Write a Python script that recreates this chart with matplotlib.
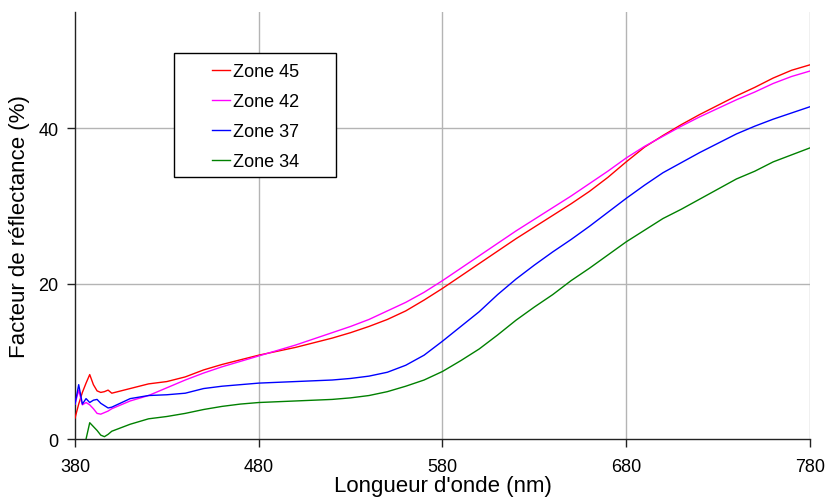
import numpy as np
import matplotlib
matplotlib.use("Agg")
import matplotlib.pyplot as plt
from matplotlib.patches import Rectangle

plt.rcParams['font.family'] = ['Liberation Sans', 'DejaVu Sans']

# longueurs d'onde (nm)
wl = [380, 382, 384, 386, 388, 390, 392, 394, 396, 398, 400,
      410, 420, 430, 440, 450, 460, 470, 480, 490, 500,
      510, 520, 530, 540, 550, 560, 570, 580, 590, 600,
      610, 620, 630, 640, 650, 660, 670, 680, 690, 700,
      710, 720, 730, 740, 750, 760, 770, 780]

zone45 = [2.7, 4.5, 6.0, 7.2, 8.3, 7.0, 6.2, 6.0, 6.1, 6.3, 5.9,
          6.5, 7.1, 7.4, 8.0, 8.9, 9.6, 10.2, 10.8, 11.3, 11.8,
          12.4, 13.0, 13.7, 14.5, 15.4, 16.5, 17.9, 19.4, 21.0, 22.6,
          24.2, 25.8, 27.3, 28.8, 30.3, 31.9, 33.7, 35.7, 37.6, 39.1,
          40.5, 41.8, 43.0, 44.2, 45.3, 46.5, 47.5, 48.2]

zone42 = [4.5, 6.3, 4.4, 4.7, 4.4, 3.9, 3.3, 3.2, 3.4, 3.6, 3.9,
          4.9, 5.6, 6.6, 7.6, 8.5, 9.3, 10.0, 10.7, 11.4, 12.1,
          12.9, 13.7, 14.5, 15.4, 16.5, 17.6, 18.9, 20.4, 22.0, 23.6,
          25.2, 26.8, 28.3, 29.8, 31.3, 32.9, 34.5, 36.2, 37.7, 39.0,
          40.3, 41.5, 42.6, 43.7, 44.7, 45.8, 46.7, 47.4]

zone37 = [4.5, 7.0, 4.5, 5.2, 4.7, 5.0, 5.1, 4.6, 4.3, 4.0, 4.1,
          5.2, 5.6, 5.7, 5.9, 6.5, 6.8, 7.0, 7.2, 7.3, 7.4,
          7.5, 7.6, 7.8, 8.1, 8.6, 9.5, 10.8, 12.6, 14.5, 16.4,
          18.6, 20.6, 22.4, 24.1, 25.7, 27.4, 29.2, 31.0, 32.7, 34.3,
          35.6, 36.9, 38.1, 39.3, 40.3, 41.2, 42.0, 42.8]

zone34 = [np.nan, np.nan, np.nan, 0.0, 2.1, 1.6, 1.1, 0.5, 0.3, 0.6, 1.0,
          1.9, 2.6, 2.9, 3.3, 3.8, 4.2, 4.5, 4.7, 4.8, 4.9,
          5.0, 5.1, 5.3, 5.6, 6.1, 6.8, 7.6, 8.7, 10.1, 11.6,
          13.4, 15.3, 17.0, 18.6, 20.4, 22.0, 23.7, 25.4, 26.9, 28.4,
          29.6, 30.9, 32.2, 33.5, 34.5, 35.7, 36.6, 37.5]

series = [("Zone 45", zone45, "#ff0000"),
          ("Zone 42", zone42, "#ff00ff"),
          ("Zone 37", zone37, "#0000ff"),
          ("Zone 34", zone34, "#008000")]

fig = plt.figure(figsize=(8.29, 5.02), dpi=100)
ax = fig.add_axes([0.0905, 0.1235, 0.8865, 0.8505])

for label, vals, col in series:
    ax.plot(wl, vals, color=col, lw=1.0, label=label, zorder=3)

ax.set_xlim(380, 780)
ax.set_ylim(0, 55)
ax.set_xticks([380, 480, 580, 680, 780])
ax.set_yticks([0, 20, 40])

# grille
for x in [480, 580, 680, 780]:
    ax.axvline(x, color="#b4b4b4", lw=1.0, zorder=1)
for y in [20, 40]:
    ax.axhline(y, color="#b4b4b4", lw=1.0, zorder=1)

for s in ["top", "right"]:
    ax.spines[s].set_visible(False)
for s in ["left", "bottom"]:
    ax.spines[s].set_color("#222222")
    ax.spines[s].set_linewidth(1.0)
ax.tick_params(direction="out", length=6, width=1.0, color="#222222",
               labelsize=13, pad=6)
ax.tick_params(axis="x", pad=8)

ax.set_xlabel("Longueur d'onde (nm)", fontsize=16, labelpad=0)
ax.set_ylabel("Facteur de réflectance (%)", fontsize=16, labelpad=6)

# cadre de la légende
ax.add_patch(Rectangle((0.1347, 0.6136), 0.2204, 0.2904, transform=ax.transAxes,
                       facecolor="white", edgecolor="black", lw=1.0, zorder=4))
leg = ax.legend(loc="center left", bbox_to_anchor=(0.1860, 0.7545),
                frameon=False, fontsize=13, handlelength=1.0,
                handletextpad=0.2, labelspacing=0.72, borderpad=0,
                borderaxespad=0)
leg.set_zorder(5)

fig.savefig("out.png", dpi=100)
